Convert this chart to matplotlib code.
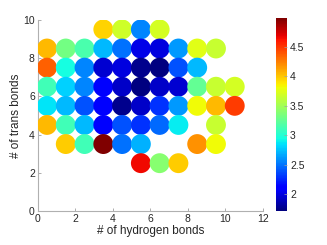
import matplotlib

matplotlib.use("Agg")

import matplotlib.pyplot as plt
import numpy as np

# cell centres (hydrogen bonds, trans bonds) and mean value per cell
hbonds = np.array([
    3.5, 4.5, 5.5, 6.5,
    0.5, 1.5, 2.5, 3.5, 4.5, 5.5, 6.5, 7.5, 8.5, 9.5,
    0.5, 1.5, 2.5, 3.5, 4.5, 5.5, 6.5, 7.5, 8.5,
    0.5, 1.5, 2.5, 3.5, 4.5, 5.5, 6.5, 7.5, 8.5, 9.5, 10.5,
    0.5, 1.5, 2.5, 3.5, 4.5, 5.5, 6.5, 7.5, 8.5, 9.5, 10.5,
    0.5, 1.5, 2.5, 3.5, 4.5, 5.5, 6.5, 7.5, 9.5,
    1.5, 2.5, 3.5, 4.5, 5.5, 8.5, 9.5,
    5.5, 6.5, 7.5,
])
tbonds = np.array(
    [9.5] * 4 + [8.5] * 10 + [7.5] * 9 + [6.5] * 11 + [5.5] * 11
    + [4.5] * 9 + [3.5] * 7 + [2.5] * 3
)
values = np.array([
    3.95, 3.68, 2.56, 3.70,
    4.05, 3.32, 3.15, 2.72, 2.49, 2.02, 1.99, 2.62, 3.75, 3.65,
    4.35, 2.95, 2.56, 1.96, 1.99, 1.76, 1.72, 2.39, 2.72,
    3.12, 2.79, 2.56, 2.09, 1.93, 1.72, 1.93, 1.96, 3.25, 3.65, 3.70,
    2.86, 2.72, 2.39, 2.12, 1.76, 1.93, 2.29, 2.62, 3.82, 4.05, 4.48,
    4.05, 3.12, 2.72, 2.12, 2.39, 2.29, 2.46, 2.89, 3.65,
    3.98, 3.12, 4.98, 2.49, 2.69, 4.18, 3.82,
    4.65, 3.39, 3.98,
])

x_ticks = [0, 2, 4, 6, 8, 10, 12]
y_ticks = [0, 2, 4, 6, 8, 10]
cbar_ticks = [2, 2.5, 3, 3.5, 4, 4.5]

plt.rcParams["font.family"] = ["Liberation Sans", "DejaVu Sans"]

fig = plt.figure(figsize=(3.27, 2.45), dpi=100)
ax = fig.add_axes([0.115, 0.139, 0.689, 0.78])
cax = fig.add_axes([0.843, 0.14, 0.0355, 0.785])

sc = ax.scatter(hbonds, tbonds, c=values, cmap="jet", s=205, marker="o",
                linewidths=0, vmin=values.min(), vmax=values.max(), zorder=3)

ax.set_xlim(0, 12)
ax.set_ylim(0, 10)
ax.set_xticks(x_ticks)
ax.set_yticks(y_ticks)
ax.set_xlabel("# of hydrogen bonds", fontsize=8.5, color="#262626", labelpad=1)
ax.set_ylabel("# of trans bonds", fontsize=8.5, color="#262626", labelpad=1)
ax.tick_params(direction="in", length=2.5, width=0.6, color="#a0a0a0",
               labelsize=7.5, labelcolor="#262626", pad=2)
for side in ("top", "right"):
    ax.spines[side].set_visible(False)
for side in ("left", "bottom"):
    ax.spines[side].set_color("#b0b0b0")
    ax.spines[side].set_linewidth(0.8)

cb = fig.colorbar(sc, cax=cax, ticks=cbar_ticks)
cb.outline.set_visible(False)
cb.ax.tick_params(direction="in", length=2, width=0.5, color="#a0a0a0",
                  labelsize=7.5, labelcolor="#262626", pad=2)
cb.ax.set_yticklabels(["2", "2.5", "3", "3.5", "4", "4.5"])

fig.savefig("out.png", dpi=100)
plt.close(fig)
